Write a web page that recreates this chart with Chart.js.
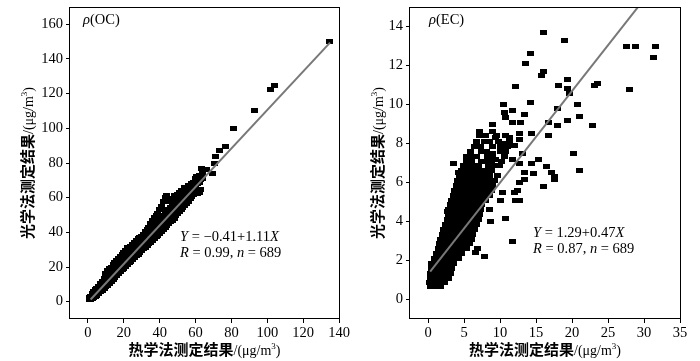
<!DOCTYPE html>
<html>
<head>
<meta charset="utf-8">
<script src="https://cdn.jsdelivr.net/npm/chart.js@4.4.0/dist/chart.umd.min.js"></script>
<style>
  html, body { margin: 0; padding: 0; background: #fff; }
  #wrap { position: relative; width: 700px; height: 361px; }
  canvas { position: absolute; top: 0; }
  #ocChart { left: 0; }
  #ecChart { left: 350px; }
</style>
</head>
<body>
<div id="wrap">
  <canvas id="ocChart" width="350" height="361"></canvas>
  <canvas id="ecChart" width="350" height="361"></canvas>
</div>
<script>
// ---- OC panel data (thermal x, optical y) ----
const ocXTicks = [0, 20, 40, 60, 80, 100, 120, 140];
const ocYTicks = [0, 20, 40, 60, 80, 100, 120, 140, 160];
const ocFit = [-0.41, 1.11];
const ocFitRange = [1.5, 135];
// dense band: [thermal, [optical values]]
const ocBand = [
  [0.8, [1.0, 2.6]], [1.5, [1.2, 3.2]], [2.3, [1.6, 3.4, 4.8]], [3, [2.2, 4.2, 5.8]],
  [4, [2.8, 4.8, 6.8]], [5, [3.6, 5.8, 7.8]], [6, [4.6, 6.8, 9]], [7, [5.6, 8, 10.4]],
  [8, [6.6, 9.2, 11.8]], [9, [7.6, 10.4, 13.4]], [10, [8.6, 11.6, 14.8, 16.5]],
  [11, [9.6, 12.8, 16, 18]], [12, [10.6, 13.8, 17, 19]], [13, [11.8, 15, 18.2, 20]],
  [14, [13, 16.2, 19.4, 21.2]], [15, [14, 17.2, 20.4, 22.6]], [16, [15, 18.2, 21.4, 24]],
  [17, [16, 19.4, 22.6, 25]], [18, [17.4, 20.6, 23.6, 26]], [19, [18.4, 21.6, 24.6, 27]],
  [20, [19.4, 22.8, 25.8, 28.2]], [21, [20.4, 23.8, 27, 29.6]], [22, [21.4, 24.8, 28, 31]],
  [23, [22.4, 25.8, 29, 30.6]], [24, [23.4, 26.8, 30, 32]], [25, [24.4, 27.8, 31, 33.2]],
  [26, [25.4, 28.8, 32, 34.2]], [27, [26.4, 29.8, 33, 35.4]], [28, [27.4, 30.8, 34, 36.2]],
  [29, [28.4, 31.8, 35, 36.8]], [30, [29.4, 32.8, 35.8, 37.8]], [31, [30.4, 33.8, 36.8, 38.8]],
  [32, [31.4, 34.8, 37.8, 40.2]], [33, [32.4, 35.8, 39, 41.4]], [34, [33.4, 37, 40.2, 43]],
  [35, [34.4, 38, 41.4, 45]], [36, [35.4, 39, 42.6, 47]], [37, [36.4, 40, 44, 48.4]],
  [38, [37.4, 41.2, 45, 49.6]], [39, [38.4, 42.4, 46.4, 51]], [40, [39.4, 43.6, 47.6, 53]],
  [41, [40.4, 44.6, 48.8, 55]], [42, [41.4, 45.6, 50, 58]], [43, [42.6, 46.8, 51, 60]],
  [44, [43.8, 48, 52.2, 61]], [45, [45, 49, 53.4, 59.6]], [46, [46, 50.2, 54.6, 57.6]],
  [47, [47, 51.4, 55.6, 58.6]], [48, [48.2, 52.6, 56.6, 61]], [49, [49.6, 53.8, 57.8, 60.4]],
  [50, [50.8, 55, 59, 62]], [51, [52, 56, 60, 63]], [52, [53, 57.2, 61, 64.4]],
  [53, [54.4, 58.4, 62, 64.2]], [54, [55.6, 59.6, 63, 65.6]], [55, [56.8, 60.8, 64, 66]],
  [56, [58, 62, 65, 67]], [57, [59.4, 63.2, 66.4]], [58, [60.8, 64.4, 68.2]],
  [59, [62, 65.6, 69]], [60, [63, 66.8, 70.8]], [61, [62.4, 68, 72]], [62, [63, 69, 73]],
  [63, [65, 70.2]], [64, [71, 74]]
];
const ocOutliers = [
  [60.7, 72], [63.5, 77], [66, 76.5], [69.6, 74], [70.7, 80], [71.2, 83.6], [73.4, 87],
  [76.6, 89.7], [81.2, 99.9], [92.9, 110.5], [102, 122.6], [103.8, 124.7], [134.5, 150]
];

// ---- EC panel data ----
const ecXTicks = [0, 5, 10, 15, 20, 25, 30, 35];
const ecYTicks = [0, 2, 4, 6, 8, 10, 12, 14];
const ecFit = [1.29, 0.47];
const ecFitRange = [0.3, 30];
// dense cluster: [optical, [thermal values]]
const ecDense = [
  [0.65, [0.3, 1.0, 1.7]], [0.85, [0.2, 0.9, 1.6, 2.3]], [1.1, [0.3, 1.0, 1.7, 2.4, 2.9]],
  [1.35, [0.4, 1.1, 1.8, 2.5, 3.1]], [1.6, [0.5, 1.2, 1.9, 2.6, 3.3]],
  [1.85, [0.5, 1.3, 2.0, 2.7, 3.5]], [2.1, [0.9, 1.6, 2.3, 3.0, 3.7, 4.3]],
  [2.35, [1.2, 1.9, 2.6, 3.3, 4.0, 4.7]], [2.6, [1.4, 2.1, 2.8, 3.5, 4.2, 4.9, 5.4]],
  [2.85, [1.6, 2.3, 3.0, 3.7, 4.4, 5.1, 5.7]], [3.1, [1.8, 2.5, 3.2, 3.9, 4.6, 5.3, 6.0]],
  [3.35, [2.0, 2.7, 3.4, 4.1, 4.8, 5.5, 6.2]], [3.6, [2.2, 2.9, 3.6, 4.3, 5.0, 5.7, 6.5]],
  [3.85, [2.4, 3.1, 3.8, 4.5, 5.2, 5.9, 6.8]], [4.1, [2.7, 3.4, 4.1, 4.8, 5.5, 6.2, 7.0]],
  [4.35, [2.8, 3.5, 4.2, 4.9, 5.6, 6.3, 7.2]], [4.6, [2.8, 3.6, 4.3, 5.0, 5.7, 6.4, 7.3]],
  [4.85, [3.1, 3.8, 4.5, 5.2, 5.9, 6.6, 7.4]], [5.1, [3.3, 4.0, 4.7, 5.4, 6.1, 6.8, 7.5, 8.0]],
  [5.35, [3.5, 4.2, 4.9, 5.6, 6.3, 7.0, 7.7, 8.5]], [5.6, [3.7, 4.4, 5.1, 5.8, 6.5, 7.2, 7.9, 8.8]],
  [5.85, [3.9, 4.6, 5.3, 6.0, 6.7, 7.4, 8.1, 9.0]], [6.1, [4.1, 4.8, 5.5, 6.2, 6.9, 7.6, 8.3, 9.3]],
  [6.35, [4.4, 5.1, 5.8, 6.5, 7.2, 7.9, 8.6, 9.6]], [6.6, [4.6, 5.3, 6.0, 6.7, 7.4, 8.1, 8.8]],
  [6.85, [4.9, 5.6, 6.3, 7.0, 8.4, 9.1, 9.9]], [7.1, [5.3, 6.0, 7.4, 8.1, 8.8, 10.2]],
  [7.35, [5.3, 6.1, 6.8, 8.2, 9.0, 10.6]], [7.6, [5.9, 7.4, 8.1, 10.0]],
  [7.85, [6.4, 7.3, 8.9, 10.1, 11.0]], [8.1, [6.8, 7.8, 8.6, 9.8, 11.3]],
  [8.4, [7.1, 8.0, 9.5, 10.8]], [8.6, [7.1, 9.0]]
];
const ecScatter = [
  [16.0, 13.7], [18.9, 13.3], [14.3, 12.6], [13.5, 12.1], [16.0, 11.7], [15.8, 11.5],
  [19.4, 11.3], [18.1, 11.0], [19.4, 10.8], [19.6, 10.55], [12.2, 10.9], [14.3, 10.1],
  [10.5, 10.0], [11.7, 9.7], [10.6, 9.6], [10.7, 9.35], [13.4, 9.5], [18.0, 9.8],
  [20.7, 10.0], [21.1, 9.4], [19.4, 9.2], [16.8, 9.1], [18.0, 8.9], [12.9, 9.06],
  [11.7, 9.06], [9.0, 9.0], [22.8, 8.9], [14.4, 8.5], [16.7, 8.4], [12.7, 8.2],
  [20.2, 7.5], [21.1, 6.6], [15.3, 7.2], [14.4, 7.0], [16.5, 6.8], [13.4, 6.5],
  [14.7, 6.45], [17.1, 6.5], [17.6, 6.3], [16.1, 5.8], [17.5, 6.15], [3.6, 7.0],
  [5.3, 7.35], [27.5, 13.0], [28.8, 12.95], [31.6, 13.0], [31.3, 12.4], [28.0, 10.75],
  [23.1, 11.0], [23.5, 11.1], [10.7, 4.15], [11.8, 2.96], [8.7, 4.0], [7.8, 2.2],
  [6.9, 2.6], [6.6, 2.4], [2.7, 4.5], [3.4, 5.1], [10.3, 5.5], [12.0, 5.5], [12.4, 5.6],
  [8.5, 4.6], [13.4, 6.15], [12.2, 5.1], [10.1, 5.1], [12.7, 6.0], [12.7, 5.1],
  [10.8, 8.4], [12.7, 8.5], [7.1, 8.55], [7.6, 8.4], [8.5, 8.1], [9.4, 8.3], [10.3, 8.0],
  [11.3, 8.3], [12.0, 7.9], [13.1, 7.5], [9.0, 7.5], [7.6, 7.6], [10.8, 7.6], [11.7, 7.2],
  [12.7, 7.0], [9.4, 7.2], [6.0, 7.0], [6.4, 7.35], [4.3, 6.5]
];

const serif = '"Liberation Serif", "Times New Roman", serif';
const cjk = '"Noto Sans CJK SC", sans-serif';

// small black rectangle used as marker
const mark = document.createElement('canvas');
mark.width = 7;
mark.height = 5;
const mctx = mark.getContext('2d');
mctx.fillStyle = '#000';
mctx.fillRect(0, 0, 7, 5);

function fitLine(coef, range) {
  return range.map(x => ({ x: x, y: coef[0] + coef[1] * x }));
}

function drawRuns(ctx, runs, x, y, align) {
  let total = 0;
  runs.forEach(r => { ctx.font = r[1]; total += ctx.measureText(r[0]).width; });
  let cx = align === 'center' ? x - total / 2 : x;
  runs.forEach(r => {
    ctx.font = r[1];
    ctx.fillText(r[0], cx, y + (r[2] || 0));
    cx += ctx.measureText(r[0]).width;
  });
}

const titleRuns = (label) => [
  [label, 'bold 15px ' + cjk],
  ['/(μg/m', '14px ' + serif],
  ['3', '9px ' + serif, -6],
  [')', '14px ' + serif]
];

function decorPlugin(info) {
  return {
    id: 'decor',
    afterDraw(chart) {
      const ctx = chart.ctx;
      const a = chart.chartArea;
      ctx.save();
      ctx.strokeStyle = '#000';
      ctx.lineWidth = 1;
      ctx.strokeRect(Math.round(a.left) - 0.5, Math.round(a.top) + 0.5,
        Math.round(a.right - a.left) + 1, Math.round(a.bottom - a.top) - 1);
      ctx.fillStyle = '#000';
      ctx.textBaseline = 'alphabetic';
      const mid = (a.left + a.right) / 2;
      drawRuns(ctx, titleRuns('热学法测定结果'), mid, 355, 'center');
      ctx.save();
      ctx.translate(33, (a.top + a.bottom) / 2);
      ctx.rotate(-Math.PI / 2);
      drawRuns(ctx, titleRuns('光学法测定结果'), 0, 0, 'center');
      ctx.restore();
      drawRuns(ctx, [['ρ', 'italic 14.5px ' + serif], [info.name, '14.5px ' + serif]], info.labelX, 24, 'left');
      drawRuns(ctx, [['Y', 'italic 14.5px ' + serif], [info.eq, '14.5px ' + serif], ['X', 'italic 14.5px ' + serif]],
        info.eqX, info.eqY, 'left');
      drawRuns(ctx, [['R', 'italic 14.5px ' + serif], [info.r, '14.5px ' + serif], ['n', 'italic 14.5px ' + serif],
        [' = 689', '14.5px ' + serif]], info.eqX, info.eqY + 16, 'left');
      ctx.restore();
    }
  };
}

function axis(min, max, tickValues, isX, size) {
  return {
    type: 'linear',
    min: min,
    max: max,
    afterBuildTicks: s => { s.ticks = tickValues.map(v => ({ value: v })); },
    afterFit: s => {
      if (isX) { s.height = size; s.paddingLeft = 0; s.paddingRight = 0; }
      else { s.width = size; s.paddingTop = 0; s.paddingBottom = 0; }
    },
    grid: { drawOnChartArea: false, drawTicks: true, tickLength: 4, color: '#000' },
    border: { display: false },
    ticks: {
      color: '#000',
      padding: isX ? 1 : 3,
      font: { family: serif, size: 14.5 }
    }
  };
}

function makeChart(id, points, fit, fitRange, xr, yr, xTicks, yTicks, yWidth, padRight, info) {
  new Chart(document.getElementById(id), {
    type: 'scatter',
    data: {
      datasets: [
        {
          data: fitLine(fit, fitRange),
          showLine: true,
          borderColor: '#787878',
          borderWidth: 2,
          pointRadius: 0
        },
        {
          data: points,
          pointStyle: mark,
          pointRadius: 3.5,
          backgroundColor: '#000',
          borderColor: '#000'
        }
      ]
    },
    options: {
      responsive: false,
      animation: false,
      layout: { padding: { top: 7, right: padRight, left: 0, bottom: 0 } },
      plugins: { legend: { display: false }, tooltip: { enabled: false } },
      scales: {
        x: axis(xr[0], xr[1], xTicks, true, 42),
        y: axis(yr[0], yr[1], yTicks, false, yWidth)
      }
    },
    plugins: [decorPlugin(info)]
  });
}

const ocPoints = [];
ocBand.forEach(([x, ys]) => ys.forEach(y => ocPoints.push({ x: x, y: y })));
ocOutliers.forEach(([x, y]) => ocPoints.push({ x: x, y: y }));

const ecPoints = [];
ecDense.forEach(([y, xs]) => xs.forEach(x => ecPoints.push({ x: x, y: y })));
ecScatter.forEach(([x, y]) => ecPoints.push({ x: x, y: y }));

makeChart('ocChart', ocPoints, ocFit, ocFitRange, [-10, 140], [-10, 170], ocXTicks, ocYTicks, 70, 11,
  { name: '(OC)', labelX: 83, eq: ' = −0.41+1.11', r: ' = 0.99, ', eqX: 180, eqY: 241 });
makeChart('ecChart', ecPoints, ecFit, ecFitRange, [-2.5, 35], [-1, 15], ecXTicks, ecYTicks, 60, 20,
  { name: '(EC)', labelX: 79, eq: ' = 1.29+0.47', r: ' = 0.87, ', eqX: 183, eqY: 237 });
</script>
</body>
</html>
